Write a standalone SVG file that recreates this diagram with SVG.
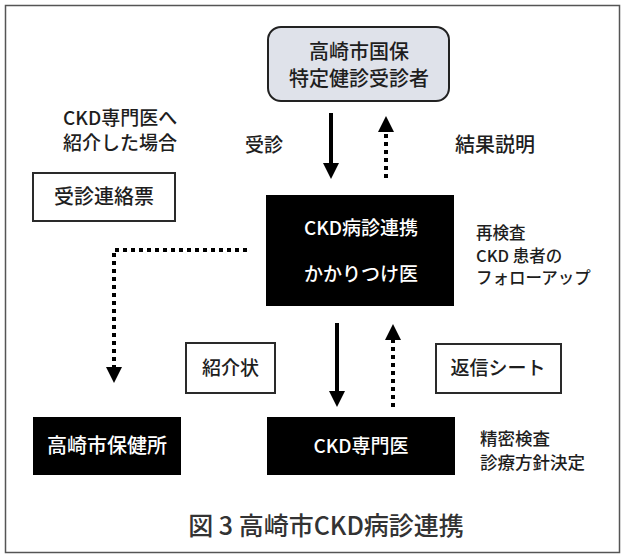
<svg xmlns="http://www.w3.org/2000/svg" width="625" height="558" viewBox="0 0 625 558">
<defs>
<style>
text{font-family:"Noto Sans CJK JP","Noto Sans",sans-serif;fill:#1e1e1e;font-size:19px;font-weight:500}
.c{text-anchor:middle}
.w{fill:#ffffff}
.f20{font-size:20px}
.f17{font-size:16.500px}
.f18{font-size:17.500px}
.cap{font-size:25px;fill:#333}
.blk{fill:#000}
.box{fill:#fff;stroke:#2a2a2a;stroke-width:2}
.solid{stroke:#000;stroke-width:4;fill:none}
.dot{stroke:#000;stroke-width:4;fill:none;stroke-dasharray:4 4}
</style>
<marker id="ah" viewBox="0 0 16 16" refX="0" refY="8" markerWidth="16" markerHeight="16" markerUnits="userSpaceOnUse" orient="auto">
<path d="M0,0 L16,8 L0,16 Z" fill="#000"/>
</marker>
</defs>
<rect x="0" y="0" width="625" height="558" fill="#fff"/>
<rect x="5.5" y="5.5" width="614" height="547" fill="#fff" stroke="#555" stroke-width="1.5"/>

<g id="patient">
<rect x="268" y="27" width="181" height="74" rx="13" fill="#dfe2ea" stroke="#222" stroke-width="2"/>
<text class="c f20" x="359" y="59">高崎市国保</text>
<text class="c f20" x="359" y="86">特定健診受診者</text>
</g>

<g id="kakaritsuke">
<rect class="blk" x="266" y="195" width="188" height="111"/>
<text class="c w" x="361" y="235">CKD病診連携</text>
<text class="c w" x="361" y="281">かかりつけ医</text>
</g>

<g id="hokenjo">
<rect class="blk" x="33" y="417" width="148" height="58"/>
<text class="c w f20" x="107" y="453">高崎市保健所</text>
</g>

<g id="senmoni">
<rect class="blk" x="267" y="417" width="188" height="58"/>
<text class="c w" x="361" y="453">CKD専門医</text>
</g>

<g id="jushin-renraku">
<rect class="box" x="33" y="173" width="142" height="48"/>
<text class="c f20" x="104" y="204">受診連絡票</text>
</g>

<g id="shokaijo">
<rect class="box" x="186" y="343" width="89" height="50"/>
<text class="c" x="230.500" y="375">紹介状</text>
</g>

<g id="henshin">
<rect class="box" x="436" y="344" width="125" height="49"/>
<text class="c" x="498" y="375">返信シート</text>
</g>

<g id="connectors">
<line class="solid" x1="331" y1="113" x2="331" y2="163" marker-end="url(#ah)"/>
<line class="dot" x1="386" y1="178" x2="386" y2="132" marker-end="url(#ah)"/>
<path class="dot" d="M247,250 H114 V367" marker-end="url(#ah)"/>
<line class="solid" x1="337" y1="323" x2="337" y2="391" marker-end="url(#ah)"/>
<line class="dot" x1="393" y1="407" x2="393" y2="340" marker-end="url(#ah)"/>
</g>

<g id="labels">
<text x="63" y="125"><tspan x="63" y="125">CKD専門医へ</tspan><tspan x="63" y="150">紹介した場合</tspan></text>
<text x="245" y="152">受診</text>
<text class="f20" x="455" y="152">結果説明</text>
<text class="f17" x="476" y="239"><tspan x="476" y="239">再検査</tspan><tspan x="476" y="261.500">CKD 患者の</tspan><tspan x="476" y="284">フォローアップ</tspan></text>
<text class="f18" x="480" y="445"><tspan x="480" y="445">精密検査</tspan><tspan x="480" y="469">診療方針決定</tspan></text>
</g>

<text class="c cap" x="326" y="535">図 3 高崎市CKD病診連携</text>
</svg>
